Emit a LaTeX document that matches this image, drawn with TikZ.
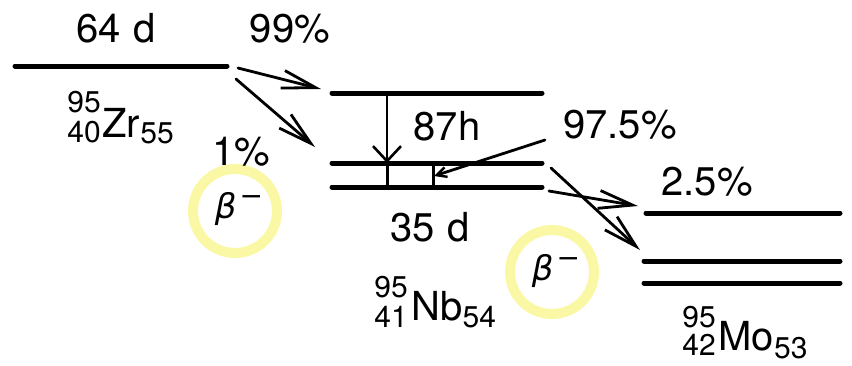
\documentclass[tikz,border=0pt]{standalone}
\usepackage{fontspec}
\setmainfont{TeX Gyre Heros}
\newfontfamily\grkfont{DejaVu Sans}
\usetikzlibrary{arrows.meta}
\definecolor{ringyellow}{RGB}{250,247,165}
\newcommand{\bigtxt}{\fontsize{40}{44}\selectfont}
\newcommand{\smalltxt}{\fontsize{30}{30}\selectfont}
\newcommand{\betaminus}{{\grkfont\fontsize{34}{34}\selectfont\itshape β}%
  \hspace{3pt}\raisebox{13pt}{\grkfont\fontsize{28}{28}\selectfont −}}
\tikzset{
  level/.style={line width=5pt, line cap=round},
  decay/.style={line width=2.8pt, line cap=round,
    -{Straight Barb[length=34pt,width=18pt,line width=2.8pt]}},
  gamma/.style={line width=2.8pt,
    -{Straight Barb[length=15pt,width=28pt,line width=2.6pt]}},
  lbl/.style={inner sep=0pt, anchor=base, font=\bigtxt},
  symb/.style={inner sep=0pt, anchor=base west, font=\bigtxt},
  massno/.style={inner sep=0pt, anchor=base east, font=\smalltxt},
  neutr/.style={inner sep=0pt, anchor=base west, font=\smalltxt},
  ring/.style={draw=ringyellow, line width=10pt, circle, minimum size=84pt,
    inner sep=0pt},
  betalbl/.style={inner sep=0pt, anchor=base},
}
\begin{document}
\begin{tikzpicture}[x=1pt,y=-1pt]
\useasboundingbox (0,0) rectangle (852,365);

% ---- Zr-95 ground state ----
\coordinate (zrL) at (15,66);
\coordinate (zrR) at (227,66);
\draw[level] (zrL) -- (zrR);

% ---- Nb-95 levels ----
\coordinate (nbAL) at (332,93);  \coordinate (nbAR) at (542,93);
\coordinate (nbBL) at (332,163); \coordinate (nbBR) at (542,163);
\coordinate (nbCL) at (332,187); \coordinate (nbCR) at (542,187);
\draw[level] (nbAL) -- (nbAR);
\draw[level] (nbBL) -- (nbBR);
\draw[level] (nbCL) -- (nbCR);

% ---- Mo-95 levels ----
\coordinate (moAL) at (646,213); \coordinate (moAR) at (840,213);
\coordinate (moBL) at (644,261); \coordinate (moBR) at (840,261);
\coordinate (moCL) at (644,283); \coordinate (moCR) at (840,283);
\draw[level] (moAL) -- (moAR);
\draw[level] (moBL) -- (moBR);
\draw[level] (moCL) -- (moCR);

% ---- beta decays Zr -> Nb ----
\coordinate (zrOut1) at (238,68);
\coordinate (zrOut2) at (236,79);
\coordinate (nbIn1) at (321,89);
\coordinate (nbIn2) at (315,147);
\draw[decay] (zrOut1) -- (nbIn1);
\draw[decay] (zrOut2) -- (nbIn2);

% ---- isomeric transition in Nb ----
\coordinate (itTop) at (387,93);
\coordinate (itEnd) at (387,163);
\coordinate (itLow) at (387,187);
\draw[gamma] (itTop) -- (itEnd);
\draw[line width=3pt] (itEnd) -- (itLow);
\coordinate (brTop) at (433,163);
\coordinate (brLow) at (433,187);
\draw[line width=3pt] (brTop) -- (brLow);
\coordinate (brFrom) at (545,140);
\coordinate (brTo) at (434,176);
\draw[line width=2.8pt, line cap=round,
  -{Straight Barb[length=10pt,width=10pt,line width=2.4pt]}] (brFrom) -- (brTo);

% ---- beta decays Nb -> Mo ----
\coordinate (nbOut1) at (549,191);
\coordinate (nbOut2) at (551,168);
\coordinate (moIn1) at (638,206);
\coordinate (moIn2) at (640,250);
\draw[decay] (nbOut1) -- (moIn1);
\draw[decay] (nbOut2) -- (moIn2);

% ---- highlight rings ----
\node[ring] (ring1) at (235,211) {};
\node[ring] (ring2) at (552,272) {};
\node[betalbl] (beta1) at (239,218) {\betaminus};
\node[betalbl] (beta2) at (556,280) {\betaminus};

% ---- half-lives and branchings ----
\node[lbl] (tZr) at (116,42) {64\hspace{0.3em}d};
\node[lbl] (pZr1) at (290,42) {99\%};
\node[lbl] (pZr2) at (241,165) {1\%};
\node[lbl] (tNbm) at (447,140) {87h};
\node[lbl] (pNb1) at (620,138) {97.5\%};
\node[lbl] (tNb) at (430,241) {35\hspace{0.3em}d};
\node[lbl] (pNb2) at (707,195) {2.5\%};

% ---- nuclide labels ----
\node[massno] (zrA) at (101,112) {95};
\node[massno] (zrZ) at (101,142) {40};
\node[symb]   (zrS) at (102,137) {Zr};
\node[neutr]  (zrN) at (zrS.base east) [yshift=-6pt] {55};

\node[massno] (nbA) at (408,297) {95};
\node[massno] (nbZ) at (408,327) {41};
\node[symb]   (nbS) at (411,320) {Nb};
\node[neutr]  (nbN) at (nbS.base east) [yshift=-7pt] {54};

\node[massno] (moA) at (716,327) {95};
\node[massno] (moZ) at (716,355) {42};
\node[symb]   (moS) at (718,350) {Mo};
\node[neutr]  (moN) at (moS.base east) [yshift=-8pt] {53};
\end{tikzpicture}
\end{document}
